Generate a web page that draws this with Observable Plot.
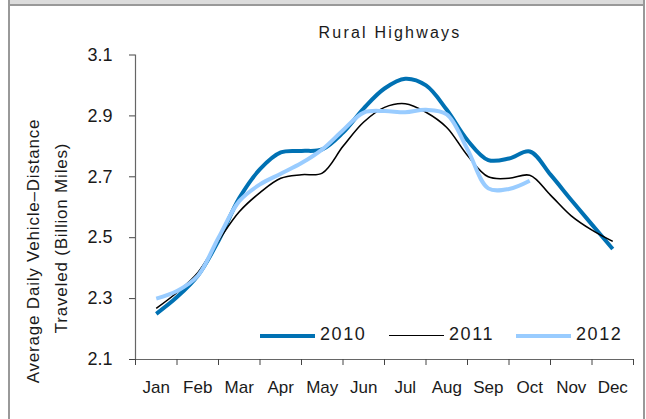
<!DOCTYPE html>
<html>
<head>
<meta charset="utf-8">
<script src="https://cdn.jsdelivr.net/npm/d3@7"></script>
<script src="https://cdn.jsdelivr.net/npm/@observablehq/plot@0.6"></script>
<style>
  html, body { margin: 0; padding: 0; background: #fff; }
  #wrap { position: relative; width: 646px; height: 419px; overflow: hidden; font-family: "Liberation Sans", Arial, sans-serif; color: #1a1a1a; }
  #topband { position: absolute; left: 10px; top: 0; width: 633px; height: 4px; background: #dcdcdc; }
  #topline { position: absolute; left: 8px; top: 4px; width: 637px; height: 2px; background: #999; }
  #lline { position: absolute; left: 8px; top: 0; width: 2px; height: 419px; background: #999; }
  #rline { position: absolute; left: 643px; top: 0; width: 2px; height: 419px; background: #999; }
  #chart { position: absolute; left: 0; top: 0; }
  #title { position: absolute; left: 390px; top: 33px; transform: translate(-50%, -50%); font-size: 16px; letter-spacing: 2.2px; white-space: nowrap; }
  .ylab { position: absolute; white-space: nowrap; font-size: 17px; letter-spacing: 0.8px; transform: translate(-50%, -50%) rotate(-90deg); }
  .leg { position: absolute; font-size: 18px; letter-spacing: 1.6px; white-space: nowrap; transform: translateY(-50%); }
  .sw { position: absolute; height: 0; }
</style>
</head>
<body>
<div id="wrap">
  <div id="topband"></div><div id="topline"></div><div id="lline"></div><div id="rline"></div>
  <div id="chart"></div>
  <div id="title"></div>
  <div id="ylabels"></div>
  <div id="legend"></div>
</div>
<script>
const title = "Rural Highways";
const yLabelLines = ["Average Daily Vehicle–Distance", "Traveled (Billion Miles)"];
const months = ["Jan","Feb","Mar","Apr","May","Jun","Jul","Aug","Sep","Oct","Nov","Dec"];
const yTicks = [2.1, 2.3, 2.5, 2.7, 2.9, 3.1];
const years = ["2010", "2011", "2012"];
// position in months (0 = mid-January), half-month steps
const pos = [0,0.5,1,1.5,2,2.5,3,3.5,4,4.5,5,5.5,6,6.5,7,7.5,8,8.5,9,9.5,10,10.5,11];
const v2010 = [2.25,2.305,2.375,2.49,2.63,2.725,2.78,2.785,2.79,2.845,2.925,2.99,3.022,3.0,2.92,2.82,2.755,2.76,2.783,2.707,2.624,2.543,2.463];
const v2011 = [2.268,2.32,2.385,2.49,2.585,2.648,2.695,2.707,2.712,2.8,2.88,2.928,2.94,2.912,2.862,2.77,2.70,2.695,2.705,2.64,2.572,2.525,2.488];
const v2012 = [2.30,2.325,2.375,2.50,2.62,2.675,2.71,2.745,2.79,2.853,2.911,2.916,2.912,2.92,2.905,2.79,2.662,2.66,2.687];
const colors = {"2010": "#0071b3", "2011": "#000000", "2012": "#99ccff"};
const widths = {"2010": 4, "2011": 1.6, "2012": 4};

const seriesVals = {"2010": v2010, "2011": v2011, "2012": v2012};
const rows = years.flatMap(y => seriesVals[y].map((v, i) => ({year: y, t: pos[i], v})));

const bounds = d3.range(0, 13).map(i => i - 0.5);
const centers = d3.range(0, 12);

const plot = Plot.plot({
  width: 646, height: 419,
  marginLeft: 135, marginRight: 13, marginTop: 54.5, marginBottom: 60,
  style: {fontFamily: "'Liberation Sans', Arial, sans-serif", background: "transparent", color: "#1a1a1a"},
  x: {domain: [-0.5, 11.5], axis: null},
  y: {domain: [2.1, 3.1], axis: null},
  marks: [
    Plot.ruleX([-0.5], {stroke: "#666", strokeWidth: 1.2}),
    Plot.ruleY([2.1], {stroke: "#666", strokeWidth: 1.2}),
    Plot.axisY({ticks: yTicks, tickFormat: d => d.toFixed(1), tickSize: 6, tickPadding: 17, fontSize: 18, label: null, stroke: "#444", style: "letter-spacing:1.5px"}),
    Plot.axisX({ticks: bounds, tickFormat: () => "", tickSize: 6, label: null, stroke: "#444"}),
    Plot.axisX({ticks: centers, tickFormat: i => months[i], tickSize: 0, tickPadding: 21, fontSize: 17, label: null, style: "letter-spacing:1.4px"}),
    ...years.map(y => Plot.line(rows.filter(d => d.year === y), {x: "t", y: "v", stroke: colors[y], strokeWidth: widths[y], curve: "catmull-rom", strokeLinecap: "butt"}))
  ]
});
document.getElementById("chart").appendChild(plot);
document.getElementById("title").textContent = title;

const yl = document.getElementById("ylabels");
const ylX = [34, 62];
yLabelLines.forEach((s, i) => {
  const d = document.createElement("div");
  d.className = "ylab";
  d.textContent = s;
  d.style.left = ylX[i] + "px";
  d.style.top = (i === 0 ? 251 : 238) + "px";
  yl.appendChild(d);
});

const leg = document.getElementById("legend");
const legX = [260, 389, 516];
years.forEach((y, i) => {
  const sw = document.createElement("div");
  sw.className = "sw";
  sw.style.left = legX[i] + "px";
  sw.style.width = "55px";
  sw.style.top = (336 - widths[y] / 2) + "px";
  sw.style.borderTop = widths[y] + "px solid " + colors[y];
  leg.appendChild(sw);
  const t = document.createElement("div");
  t.className = "leg";
  t.textContent = y;
  t.style.left = (legX[i] + 60) + "px";
  t.style.top = "334px";
  leg.appendChild(t);
});
</script>
</body>
</html>
